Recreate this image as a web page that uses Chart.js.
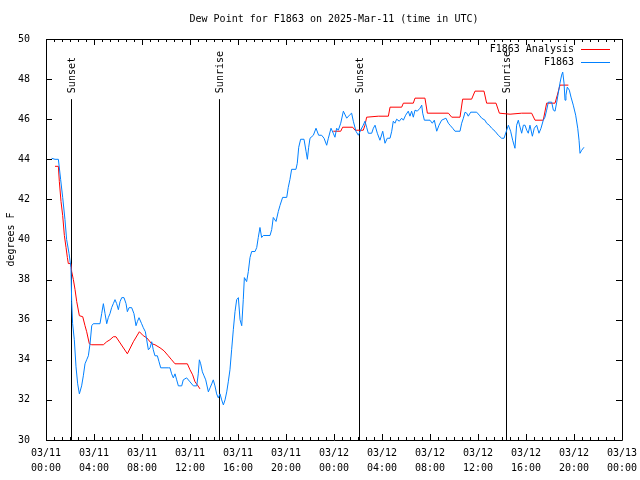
<!DOCTYPE html>
<html>
<head>
<meta charset="utf-8">
<title>Dew Point for F1863</title>
<script src="https://cdn.jsdelivr.net/npm/chart.js@4.4.1/dist/chart.umd.min.js"></script>
<style>
    body { margin: 0; background: #fff; }
    #wrap { width: 640px; height: 480px; }
</style>
</head>
<body>
<div id="wrap"><canvas id="canvas" width="640" height="480"></canvas></div>
<script>
// hours since 2025-03-11 00:00 UTC
var xTickDates = ['03/11', '03/11', '03/11', '03/11', '03/11', '03/11', '03/12', '03/12', '03/12', '03/12', '03/12', '03/12', '03/13'];
var xTickTimes = ['00:00', '04:00', '08:00', '12:00', '16:00', '20:00', '00:00', '04:00', '08:00', '12:00', '16:00', '20:00', '00:00'];

var seriesNames = ['F1863 Analysis', 'F1863'];

var analysisHours = [0.75, 1.03, 1.11, 1.25, 1.39, 1.53, 1.67, 1.78, 1.86, 2.08, 2.14, 2.28, 2.42, 2.56, 2.78, 3.06, 3.25, 3.39, 3.61, 3.81,
    4.78, 5.06, 5.33, 5.61, 5.83, 6.78, 7.28, 7.78, 8.11, 8.39, 8.81, 9.08, 9.5, 9.83, 10.19, 10.47, 10.75, 11.78, 12.0, 12.22,
    12.42, 12.61, 12.83, 18.0, 23.94, 24.56, 24.72, 25.56, 25.75, 26.44, 26.58, 26.72, 27.69, 28.53, 28.67, 29.64, 29.78, 30.61, 30.75, 31.58,
    31.78, 33.53, 33.81, 34.5, 34.72, 35.47, 35.75, 36.5, 36.72, 37.5, 37.78, 38.67, 39.64, 40.47, 40.75, 41.44, 41.72, 42.42, 42.61, 42.83,
    43.53];
var analysisDew = [43.65, 43.65, 42.9, 41.9, 41.2, 40.2, 39.6, 39.1, 38.8, 38.8, 38.4, 38.0, 37.5, 36.9, 36.2, 36.15, 35.7, 35.4, 34.8, 34.75,
    34.75, 34.9, 35.0, 35.15, 35.15, 34.3, 34.9, 35.4, 35.2, 35.1, 34.8, 34.75, 34.6, 34.45, 34.2, 34.0, 33.8, 33.8, 33.5, 33.25,
    32.9, 32.75, 32.55, null, 45.4, 45.4, 45.6, 45.6, 45.45, 45.45, 45.7, 46.1, 46.15, 46.15, 46.6, 46.6, 46.8, 46.8, 47.05, 47.05,
    46.3, 46.3, 46.1, 46.1, 47.0, 47.0, 47.4, 47.4, 46.8, 46.8, 46.3, 46.25, 46.3, 46.3, 45.95, 45.95, 46.8, 46.8, 47.2, 47.7,
    47.7];

var stationHours = [0.47, 0.75, 1.03, 1.22, 1.39, 1.58, 1.72, 1.92, 2.08, 2.14, 2.22, 2.36, 2.5, 2.64, 2.78, 2.97, 3.11, 3.25, 3.39, 3.53,
    3.67, 3.81, 3.94, 4.5, 4.64, 4.78, 4.92, 5.06, 5.19, 5.33, 5.47, 5.61, 5.75, 5.89, 6.03, 6.17, 6.31, 6.5, 6.67, 6.78,
    6.92, 7.14, 7.33, 7.5, 7.61, 7.75, 7.97, 8.11, 8.28, 8.39, 8.53, 8.67, 8.81, 8.94, 9.08, 9.28, 9.42, 9.56, 10.19, 10.33,
    10.47, 10.61, 10.75, 10.89, 11.03, 11.31, 11.44, 11.72, 12.0, 12.28, 12.56, 12.69, 12.78, 12.89, 13.03, 13.17, 13.31, 13.53, 13.67, 13.81,
    13.94, 14.08, 14.22, 14.36, 14.5, 14.64, 14.78, 14.92, 15.06, 15.19, 15.33, 15.47, 15.61, 15.75, 15.89, 16.03, 16.17, 16.31, 16.44, 16.53,
    16.72, 16.86, 17.0, 17.14, 17.42, 17.56, 17.69, 17.83, 17.97, 18.11, 18.67, 18.81, 18.94, 19.17, 19.36, 19.5, 19.72, 20.06, 20.19, 20.33,
    20.47, 20.83, 20.94, 21.06, 21.22, 21.5, 21.67, 21.78, 21.89, 22.0, 22.28, 22.5, 22.72, 22.97, 23.17, 23.39, 23.53, 23.75, 23.94, 24.08,
    24.22, 24.36, 24.56, 24.78, 25.06, 25.28, 25.47, 25.61, 25.83, 26.03, 26.22, 26.44, 26.58, 26.72, 26.86, 27.14, 27.28, 27.42, 27.61, 27.83,
    28.06, 28.25, 28.44, 28.67, 28.81, 28.94, 29.08, 29.22, 29.44, 29.64, 29.78, 29.97, 30.19, 30.33, 30.47, 30.61, 30.75, 30.94, 31.17, 31.31,
    31.39, 31.53, 32.0, 32.19, 32.36, 32.56, 32.75, 32.97, 33.33, 33.53, 33.67, 33.89, 34.08, 34.5, 34.64, 34.78, 34.92, 35.06, 35.19, 35.39,
    35.89, 36.11, 36.31, 36.58, 36.72, 36.94, 37.14, 37.42, 37.69, 37.97, 38.17, 38.39, 38.53, 38.72, 38.89, 39.08, 39.22, 39.36, 39.44, 39.64,
    39.78, 39.92, 40.06, 40.19, 40.33, 40.53, 40.69, 40.89, 41.08, 41.25, 41.44, 41.58, 41.72, 41.86, 42.14, 42.28, 42.42, 42.56, 42.69, 42.83,
    42.97, 43.06, 43.17, 43.25, 43.33, 43.44, 43.61, 43.75, 43.94, 44.14, 44.31, 44.42, 44.5, 44.64, 44.83];
var stationDew = [44.05, 44.0, 44.0, 43.0, 42.1, 41.0, 40.0, 39.3, 38.6, 36.9, 35.8, 35.0, 33.65, 32.8, 32.3, 32.7, 33.2, 33.8, 34.0, 34.2,
    34.8, 35.7, 35.8, 35.8, 36.3, 36.8, 36.3, 35.8, 36.1, 36.3, 36.6, 36.8, 37.0, 36.8, 36.5, 36.9, 37.1, 37.1, 36.8, 36.4,
    36.6, 36.6, 36.3, 35.7, 35.9, 36.1, 35.8, 35.6, 35.4, 35.0, 34.5, 34.6, 34.9, 34.5, 34.2, 34.2, 33.9, 33.6, 33.6, 33.6,
    33.3, 33.1, 33.3, 33.0, 32.7, 32.7, 33.0, 33.1, 32.9, 32.7, 32.7, 33.3, 34.0, 33.8, 33.4, 33.2, 33.0, 32.4, 32.6, 32.8,
    33.0, 32.7, 32.3, 32.1, 32.3, 32.0, 31.75, 32.0, 32.4, 32.9, 33.5, 34.5, 35.5, 36.4, 37.0, 37.1, 36.0, 35.7, 37.0, 38.1,
    37.9, 38.4, 39.1, 39.4, 39.4, 39.6, 40.1, 40.6, 40.1, 40.2, 40.2, 40.5, 41.1, 40.9, 41.4, 41.7, 42.1, 42.1, 42.6, 43.0,
    43.5, 43.5, 43.8, 44.6, 45.0, 45.0, 44.4, 44.0, 44.6, 45.05, 45.2, 45.55, 45.2, 45.2, 45.05, 44.7, 45.05, 45.55, 45.3, 45.1,
    45.55, 45.45, 45.8, 46.4, 46.05, 46.2, 46.3, 45.9, 45.4, 45.2, 45.45, 45.7, 45.9, 45.6, 45.3, 45.3, 45.55, 45.7, 45.3, 44.95,
    45.4, 44.8, 45.05, 45.05, 45.4, 45.9, 45.8, 46.0, 45.9, 46.05, 45.95, 46.2, 46.4, 46.15, 46.4, 46.1, 46.45, 46.4, 46.55, 46.7,
    46.3, 45.95, 45.95, 45.8, 45.95, 45.4, 45.7, 45.95, 46.05, 45.8, 45.7, 45.55, 45.4, 45.4, 45.8, 46.05, 46.35, 46.3, 46.15, 46.35,
    46.35, 46.2, 46.05, 45.95, 45.8, 45.7, 45.55, 45.4, 45.2, 45.05, 45.05, 45.45, 45.7, 45.4, 44.95, 44.55, 45.7, 45.95, 45.75, 45.3,
    45.7, 45.7, 45.45, 45.3, 45.7, 45.15, 45.55, 45.7, 45.3, 45.55, 45.95, 46.1, 46.45, 46.85, 46.85, 46.45, 46.4, 46.85, 47.3, 47.8,
    48.2, 48.35, 47.8, 46.95, 47.2, 47.6, 47.45, 47.1, 46.7, 46.2, 45.55, 44.95, 44.3, 44.45, 44.6];

var eventHours = [2.125, 14.458, 26.125, 38.375];
var eventNames = ['Sunset', 'Sunrise', 'Sunset', 'Sunrise'];
var eventTop = 47;

var FONT = '"DejaVu Sans Mono", "Liberation Mono", monospace';

function toPoints(xs, ys) {
    var pts = [];
    for (let i = 0; i < xs.length; i++) {
        pts.push({ x: xs[i], y: ys[i] });
    }
    return pts;
}

var datasets = [
    {
        label: seriesNames[0],
        data: toPoints(analysisHours, analysisDew),
        borderColor: '#ff0000',
        borderWidth: 1,
        order: 1
    },
    {
        label: seriesNames[1],
        data: toPoints(stationHours, stationDew),
        borderColor: '#0080ff',
        borderWidth: 1,
        order: 0
    }
];
eventHours.forEach(function (t, i) {
    datasets.push({
        label: eventNames[i],
        data: [{ x: t, y: 30 }, { x: t, y: eventTop }],
        borderColor: '#000000',
        borderWidth: 1,
        order: 2
    });
});

// gnuplot style frame: box with inward ticks, mirrored on top/right
var framePlugin = {
    id: 'frame',
    afterDraw: function (chart) {
        var ctx = chart.ctx;
        var a = chart.chartArea;
        var xs = chart.scales.x;
        var ys = chart.scales.y;
        ctx.save();
        ctx.strokeStyle = '#000';
        ctx.lineWidth = 1;
        ctx.beginPath();
        ctx.rect(Math.round(a.left) + 0.5, Math.round(a.top) + 0.5, Math.round(a.right - a.left), Math.round(a.bottom - a.top));
        for (let m = 0; m <= 72; m++) {
            var t = m * 4 / 6;
            var px = Math.round(xs.getPixelForValue(t)) + 0.5;
            var len = (m % 6 === 0) ? 6 : 3;
            ctx.moveTo(px, a.bottom);
            ctx.lineTo(px, a.bottom - len);
            ctx.moveTo(px, a.top);
            ctx.lineTo(px, a.top + len);
        }
        for (let v = 30; v <= 50; v += 2) {
            var py = Math.round(ys.getPixelForValue(v)) + 0.5;
            ctx.moveTo(a.left, py);
            ctx.lineTo(a.left + 6, py);
            ctx.moveTo(a.right, py);
            ctx.lineTo(a.right - 6, py);
        }
        ctx.stroke();

        // sunrise / sunset labels
        ctx.fillStyle = '#000';
        ctx.font = '10px ' + FONT;
        ctx.textAlign = 'left';
        ctx.textBaseline = 'middle';
        eventHours.forEach(function (t, i) {
            var x = xs.getPixelForValue(t);
            var y = ys.getPixelForValue(eventTop);
            ctx.save();
            ctx.translate(x + 1, y - 6);
            ctx.rotate(-Math.PI / 2);
            ctx.fillText(eventNames[i], 0, 0);
            ctx.restore();
        });

        // key in top right corner
        ctx.textAlign = 'right';
        chart.data.datasets.forEach(function (ds) {
            var k = seriesNames.indexOf(ds.label);
            if (k < 0) return;
            var y = a.top + 10 + k * 13;
            ctx.fillStyle = '#000';
            ctx.fillText(ds.label, a.right - 48, y);
            ctx.strokeStyle = ds.borderColor;
            ctx.beginPath();
            ctx.moveTo(a.right - 41, Math.round(y) + 0.5);
            ctx.lineTo(a.right - 12, Math.round(y) + 0.5);
            ctx.stroke();
        });
        ctx.restore();
    }
};

var ctx = document.getElementById('canvas');
var myChart = new Chart(ctx, {
    type: 'line',
    data: { datasets: datasets },
    options: {
        responsive: false,
        animation: false,
        parsing: true,
        spanGaps: false,
        elements: {
            point: { radius: 0 },
            line: { tension: 0 }
        },
        layout: {
            padding: { left: 0, right: 18, top: 0, bottom: 0 }
        },
        plugins: {
            legend: { display: false },
            tooltip: { enabled: false },
            title: {
                display: true,
                fullSize: false,
                text: 'Dew Point for F1863 on 2025-Mar-11 (time in UTC)',
                color: '#000',
                font: { family: FONT, size: 10, weight: 'normal', lineHeight: 1.2 },
                padding: { top: 13, bottom: 14 }
            }
        },
        scales: {
            x: {
                type: 'linear',
                min: 0,
                max: 48,
                grid: { display: false },
                border: { display: false },
                afterFit: function (scale) { scale.height = 40; },
                ticks: {
                    stepSize: 4,
                    autoSkip: false,
                    maxRotation: 0,
                    padding: -2,
                    color: '#000',
                    font: { family: FONT, size: 10, lineHeight: 1.5 },
                    callback: function (value) {
                        var i = Math.round(value / 4);
                        return [xTickDates[i], xTickTimes[i]];
                    }
                }
            },
            y: {
                min: 30,
                max: 50,
                grid: { display: false },
                border: { display: false },
                afterFit: function (scale) { scale.width = 46; },
                title: {
                    display: true,
                    text: 'degrees F',
                    color: '#000',
                    font: { family: FONT, size: 10, lineHeight: 1.2 },
                    padding: { top: 5, bottom: 0 }
                },
                ticks: {
                    stepSize: 2,
                    padding: 8,
                    color: '#000',
                    font: { family: FONT, size: 10 }
                }
            }
        }
    },
    plugins: [framePlugin]
});
</script>
</body>
</html>
